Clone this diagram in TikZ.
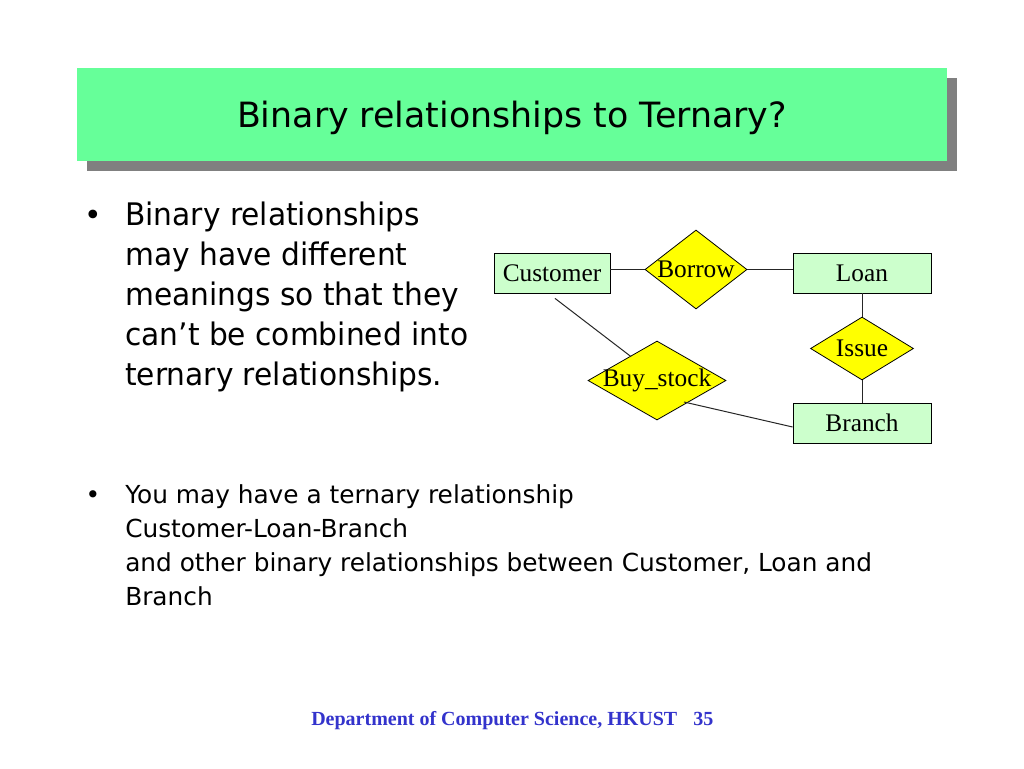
\documentclass[tikz,border=0pt]{standalone}
\usepackage{fontspec}
\setmainfont{Liberation Serif}
\newfontfamily\bodyfont{DejaVu Sans}
\newfontfamily\bodyfontA[FakeStretch=0.955]{DejaVu Sans}
\usetikzlibrary{shapes.geometric,calc}
\definecolor{titlegreen}{HTML}{66FF99}
\definecolor{shadowgray}{HTML}{808080}
\definecolor{entgreen}{HTML}{CCFFCC}
\definecolor{relyellow}{HTML}{FFFF00}
\definecolor{footblue}{HTML}{3333CC}
\tikzset{
  entity/.style={draw=black, line width=0.6pt, fill=entgreen, rectangle, inner sep=0,
    minimum height=30pt, font=\fontsize{19pt}{22pt}\selectfont},
  rel/.style={draw=black, line width=0.6pt, fill=relyellow, diamond, inner sep=0},
  reltext/.style={font=\fontsize{19pt}{22pt}\selectfont, inner sep=0},
  conn/.style={draw=black!85, line width=0.75pt},
  bodyA/.style={anchor=base west, inner sep=0, font=\bodyfontA\fontsize{23.3pt}{26pt}\selectfont},
  bodyB/.style={anchor=base west, inner sep=0, font=\bodyfont\fontsize{18.6pt}{22pt}\selectfont},
  foot/.style={anchor=base west, inner sep=0, text=footblue, font=\bfseries\fontsize{15pt}{18pt}\selectfont},
}
\begin{document}
\begin{tikzpicture}[x=0.75pt,y=-0.75pt]
\useasboundingbox[fill=white] (0,0) rectangle (1024,768);
% title
\node[fill=shadowgray, minimum width=652.5pt, minimum height=69.75pt, inner sep=0] (tshadow) at (522,124.5) {};
\node[fill=titlegreen, minimum width=652.5pt, minimum height=69.75pt, inner sep=0] (tbox) at (512,114.5) {};
\node[anchor=base, inner sep=0, font=\bodyfont\fontsize{26.1pt}{30pt}\selectfont] (ttext) at (512,127) {Binary relationships to Ternary?};
% bullet 1
\node[anchor=base, inner sep=0, font=\bodyfont\fontsize{22.3pt}{26pt}\selectfont] (bul1) at (93,225) {•};
\node[bodyA] (a1) at (125,225) {Binary relationships};
\node[bodyA] (a2) at (125,265) {may have different};
\node[bodyA] (a3) at (125,305) {meanings so that they};
\node[bodyA] (a4) at (125,345) {can’t be combined into};
\node[bodyA] (a5) at (125,385) {ternary relationships.};
% bullet 2
\node[anchor=base, inner sep=0, font=\bodyfont\fontsize{18.6pt}{22pt}\selectfont] (bul2) at (93,503) {•};
\node[bodyB] (b1) at (125,503) {You may have a ternary relationship};
\node[bodyB] (b2) at (125,537) {Customer-Loan-Branch};
\node[bodyB] (b3) at (125,571) {and other binary relationships between Customer, Loan and};
\node[bodyB] (b4) at (125,605) {Branch};
% ER diagram
\node[entity, minimum width=87pt] (cust) at (552,273) {Customer};
\node[entity, minimum width=103.5pt] (loan) at (862,273) {Loan};
\node[entity, minimum width=103.5pt] (branch) at (862,423) {Branch};
\node[rel, minimum width=76.5pt, minimum height=59.25pt, label={[reltext]center:Borrow}] (borrow) at (696,269.5) {};
\node[rel, minimum width=77.25pt, minimum height=47.25pt, label={[reltext]center:Issue}] (issue) at (862,348.5) {};
\node[rel, minimum width=103.5pt, minimum height=59.25pt, label={[reltext]center:Buy\_stock}] (buy) at (657,380.5) {};
\draw[conn] (borrow.west -| cust.east) -- (borrow.west);
\draw[conn] (borrow.east) -- (borrow.east -| loan.west);
\draw[conn] (loan.south) -- (issue.north);
\draw[conn] (issue.south) -- (branch.north);
\draw[conn] ($(cust.south)+(3,5)$) -- ($(buy.north)+(-26,16)$);
\draw[conn] ($(buy.center)+(27,21.5)$) -- ($(branch.west)+(0,4)$);
% footer
\node[foot] (f1) at (311,725) {Department of Computer Science, HKUST};
\node[foot] (f2) at (693,725) {35};
\end{tikzpicture}
\end{document}
